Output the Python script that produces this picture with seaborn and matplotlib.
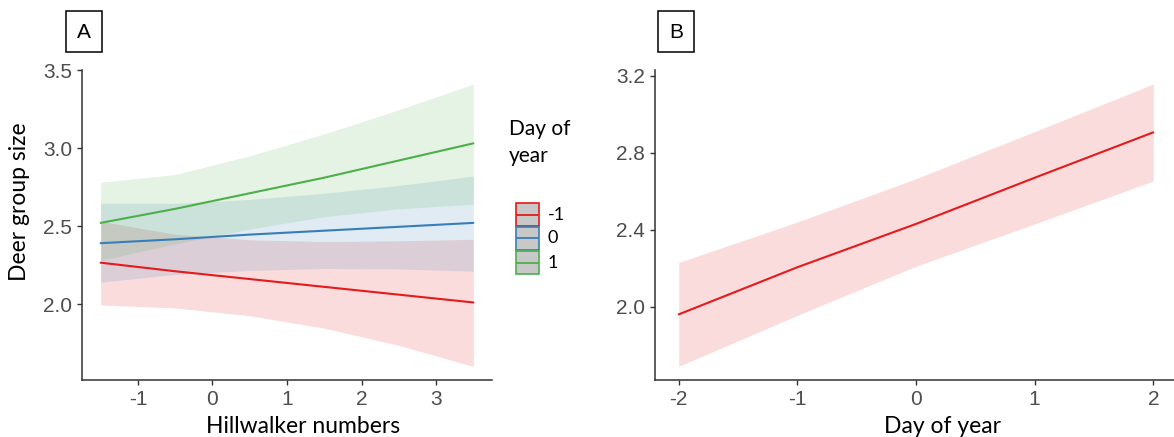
import numpy as np
import pandas as pd
import matplotlib
matplotlib.use("Agg")
import matplotlib.pyplot as plt
import seaborn as sns
from matplotlib.patches import Rectangle
from matplotlib.lines import Line2D

# Panel A: predicted deer group size vs hillwalker numbers, by day of year
hill_x = [-1.5, -0.5, 0.5, 1.5, 2.5, 3.5]
day_levels = ["-1", "0", "1"]

fit_m1 = [2.265, 2.21, 2.16, 2.11, 2.06, 2.01]
lo_m1 = [1.994, 1.975, 1.925, 1.845, 1.735, 1.60]
hi_m1 = [2.53, 2.447, 2.412, 2.40, 2.405, 2.415]

fit_0 = [2.39, 2.415, 2.445, 2.47, 2.495, 2.52]
lo_0 = [2.14, 2.19, 2.215, 2.228, 2.225, 2.21]
hi_0 = [2.645, 2.645, 2.67, 2.71, 2.76, 2.82]

fit_1 = [2.52, 2.61, 2.71, 2.81, 2.92, 3.03]
lo_1 = [2.28, 2.386, 2.48, 2.56, 2.61, 2.64]
hi_1 = [2.78, 2.83, 2.95, 3.09, 3.245, 3.41]

# Panel B: predicted deer group size vs day of year
day_x = [-2, -1, 0, 1, 2]
fit_day = [1.96, 2.205, 2.43, 2.67, 2.906]
lo_day = [1.69, 1.955, 2.21, 2.43, 2.653]
hi_day = [2.23, 2.44, 2.665, 2.91, 3.157]

sns.set_style("white")
plt.rcParams["font.family"] = ["Liberation Sans", "DejaVu Sans"]
plt.rcParams["axes.unicode_minus"] = False

palette = {"-1": "#E41A1C", "0": "#377EB8", "1": "#4DAF4A"}
title_font = ["Lato", "DejaVu Sans"]
tick_font = ["Liberation Sans", "DejaVu Sans"]

df_a = pd.DataFrame({
    "hill": hill_x * 3,
    "day": np.repeat(day_levels, len(hill_x)),
    "fit": fit_m1 + fit_0 + fit_1,
    "lo": lo_m1 + lo_0 + lo_1,
    "hi": hi_m1 + hi_0 + hi_1,
})
df_b = pd.DataFrame({"day": day_x, "fit": fit_day, "lo": lo_day, "hi": hi_day})

W, H = 1174, 437
fig = plt.figure(figsize=(W / 100, H / 100), dpi=100)
ax_a = fig.add_axes([82 / W, 57 / H, 410 / W, 310 / H])
ax_b = fig.add_axes([655 / W, 57 / H, 522 / W, 310 / H])

# ribbons then lines
for lvl in day_levels:
    d = df_a[df_a["day"] == lvl]
    ax_a.fill_between(d["hill"], d["lo"], d["hi"], color=palette[lvl], alpha=0.15, linewidth=0)
sns.lineplot(data=df_a, x="hill", y="fit", hue="day", palette=palette,
             ax=ax_a, linewidth=1.5, legend=False)

ax_b.fill_between(df_b["day"], df_b["lo"], df_b["hi"], color=palette["-1"], alpha=0.15, linewidth=0)
sns.lineplot(data=df_b, x="day", y="fit", color=palette["-1"], ax=ax_b, linewidth=1.5)

ax_a.set_xlim(-1.75, 3.75)
ax_a.set_ylim(1.513, 3.5)
ax_a.set_xticks([-1, 0, 1, 2, 3])
ax_a.set_yticks([2.0, 2.5, 3.0, 3.5])
ax_a.set_yticklabels(["2.0", "2.5", "3.0", "3.5"])

ax_b.set_xlim(-2.2, 2.2)
ax_b.set_ylim(1.619, 3.23)
ax_b.set_xticks([-2, -1, 0, 1, 2])
ax_b.set_yticks([2.0, 2.4, 2.8, 3.2])
ax_b.set_yticklabels(["2.0", "2.4", "2.8", "3.2"])

for ax in (ax_a, ax_b):
    sns.despine(ax=ax)
    for s in ("left", "bottom"):
        ax.spines[s].set_color("#333333")
        ax.spines[s].set_linewidth(1.1)
    ax.tick_params(direction="out", length=3.5, width=1, color="#333333",
                   labelsize=15, labelcolor="#4D4D4D", pad=3.5,
                   left=True, bottom=True)
    for lab in ax.get_xticklabels() + ax.get_yticklabels():
        lab.set_fontfamily(tick_font)

ax_a.set_xlabel("Hillwalker numbers", fontfamily=title_font, fontsize=16.5, color="black")
ax_a.xaxis.set_label_coords(0.54, -0.115)
ax_a.set_ylabel("Deer group size", fontfamily=title_font, fontsize=16.5, color="black")
ax_a.yaxis.set_label_coords(-0.127, 0.575)

ax_b.set_xlabel("Day of year", fontfamily=title_font, fontsize=16.5, color="black")
ax_b.xaxis.set_label_coords(0.55, -0.115)
ax_b.set_ylabel("")

# legend for panel A (drawn as ggplot-style keys)
fig.text(509 / W, 1 - 162 / H, "Day of\nyear", fontfamily=title_font, fontsize=15,
         color="black", va="baseline", ha="left", linespacing=1.45)
key_w, key_h, key_x, key_top = 23, 23, 516, 203
for i, lvl in enumerate(day_levels):
    top = key_top + i * (key_h + 1)
    fig.patches.append(Rectangle((key_x / W, 1 - (top + key_h) / H), key_w / W, key_h / H,
                                 transform=fig.transFigure, facecolor="#C8C8C8",
                                 edgecolor=palette[lvl], linewidth=1.2))
    ymid = 1 - (top + key_h / 2) / H
    fig.lines.append(Line2D([(key_x + 1) / W, (key_x + key_w - 1) / W], [ymid, ymid],
                            transform=fig.transFigure, color=palette[lvl], linewidth=1.3))
    fig.text((key_x + key_w + 9) / W, ymid, lvl, fontfamily=title_font, fontsize=13,
             color="black", va="center", ha="left")

# panel tags
for x0, tag in ((66, "A"), (658, "B")):
    fig.patches.append(Rectangle((x0 / W, 1 - 52 / H), 36 / W, 41 / H, transform=fig.transFigure,
                                 facecolor="white", edgecolor="black", linewidth=1.1))
    fig.text((x0 + 18) / W, 1 - 32 / H, tag, ha="center", va="center", fontsize=15,
             fontfamily=tick_font, color="black")

fig.savefig("out.png", dpi=100)
